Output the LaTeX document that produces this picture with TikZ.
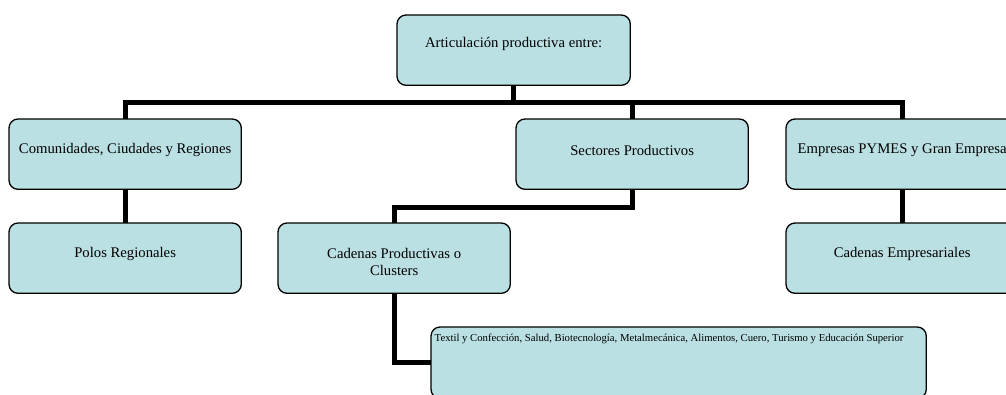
\documentclass[tikz,border=0pt]{standalone}
\usepackage{fontspec}
\setmainfont{Liberation Serif}
\definecolor{boxfill}{RGB}{187,224,227}
\begin{document}
\begin{tikzpicture}[x=1pt,y=-1pt,
  box/.style={draw=black,line width=1.3pt,fill=boxfill,rounded corners=9pt,minimum width=231pt,minimum height=69pt,inner sep=0pt,anchor=north west},
  lbl/.style={font=\fontsize{14.7}{17}\selectfont,align=center,inner sep=0pt},
  conn/.style={draw=black,line width=5pt}]
\useasboundingbox (0,0) rectangle (1006,394);
\clip (0,0) rectangle (1006,394);
\node[box,minimum width=232pt] (top) at (397,15) {};
\node[box] (comun) at (9,119) {};
\node[box] (sect) at (516,119) {};
\node[box] (emp) at (786,119) {};
\node[box] (polos) at (9,223) {};
\node[box] (cad) at (278,223) {};
\node[box] (cademp) at (786,223) {};
\node[box,minimum width=494pt,minimum height=70pt] (textil) at (431,327) {};
% connectors
\path[conn] (top.south) -- ++(0,17) coordinate (b);
\path[conn] (comun.north) |- (b) -| (emp.north);
\path[conn] (sect.north) |- (b);
\path[conn] (sect.south) -- ++(0,18) coordinate (c) -| (cad.north);
\path[conn] (comun.south) -- (polos.north);
\path[conn] (emp.south) -- (cademp.north);
\path[conn] (cad.south) |- (textil.west);
% redraw boxes on top of connectors
\foreach \n in {top,comun,sect,emp,polos,cad,cademp,textil}{
  \draw[line width=1.3pt,fill=boxfill,rounded corners=9pt] (\n.north west) rectangle (\n.south east);
}
% labels
\node[lbl] (ttop) at ([yshift=6.5pt]top.center) {Articulación productiva entre:};
\node[lbl] (tcomun) at ([yshift=4pt]comun.center) {Comunidades, Ciudades y Regiones};
\node[lbl] (tsect) at ([yshift=4pt]sect.center) {Sectores Productivos};
\node[lbl] (temp) at ([yshift=4pt]emp.center) {Empresas PYMES y Gran Empresa};
\node[lbl] (tpolos) at ([yshift=4pt]polos.center) {Polos Regionales};
\node[lbl] (tcad) at ([yshift=-4pt]cad.center) {Cadenas Productivas o\\Clusters};
\node[lbl] (tcademp) at ([yshift=4pt]cademp.center) {Cadenas Empresariales};
\node[lbl,font=\fontsize{10.7}{12}\selectfont,anchor=west] (ttextil) at (434.5,339) {Textil y Confección, Salud, Biotecnología, Metalmecánica, Alimentos, Cuero, Turismo y Educación Superior};
\end{tikzpicture}
\end{document}
